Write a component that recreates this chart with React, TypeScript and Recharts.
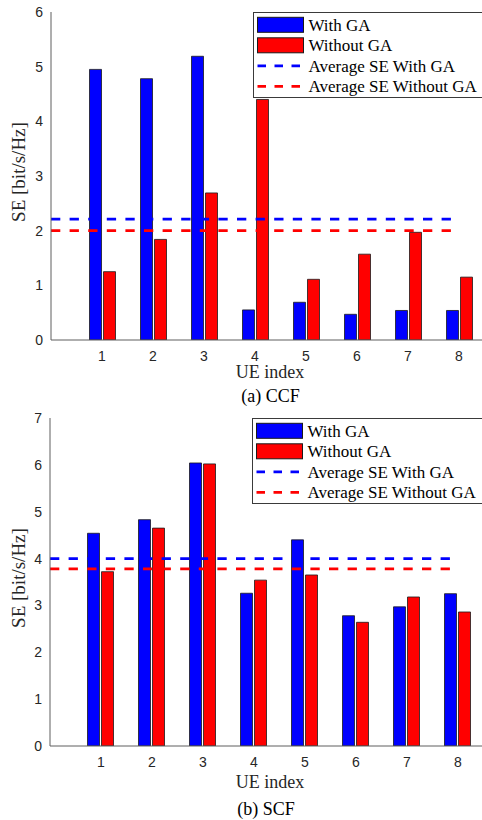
import React from 'react';
import { BarChart, Bar, XAxis, YAxis, ReferenceLine, Legend } from 'recharts';

// UE indices on the x axis
const UE = [1, 2, 3, 4, 5, 6, 7, 8];

// (a) CCF
const CCF_WITH_GA = [4.95, 4.78, 5.19, 0.55, 0.69, 0.47, 0.54, 0.54];
const CCF_WITHOUT_GA = [1.25, 1.84, 2.69, 4.4, 1.11, 1.57, 1.97, 1.15];
const CCF_AVG_WITH_GA = 2.21;
const CCF_AVG_WITHOUT_GA = 2.0;
const CCF_Y_TICKS = [0, 1, 2, 3, 4, 5, 6];

// (b) SCF
const SCF_WITH_GA = [4.54, 4.83, 6.04, 3.26, 4.4, 2.78, 2.97, 3.25];
const SCF_WITHOUT_GA = [3.72, 4.65, 6.02, 3.54, 3.65, 2.64, 3.18, 2.86];
const SCF_AVG_WITH_GA = 4.0;
const SCF_AVG_WITHOUT_GA = 3.78;
const SCF_Y_TICKS = [0, 1, 2, 3, 4, 5, 6, 7];

const SERIES_NAMES = ['With GA', 'Without GA', 'Average SE With GA', 'Average SE Without GA'];

const BLUE = '#0000ff';
const RED = '#ff0000';
const AXIS = '#5e5e5e';
const SERIF = '"Liberation Serif", "Times New Roman", serif';
const SANS = '"Liberation Sans", Arial, sans-serif';

const LegendBox = () => (
  <svg width={232} height={86} style={{ display: 'block' }}>
    <rect x={0.5} y={0.5} width={231} height={85} fill="#fff" stroke="#3a3a3a" strokeWidth={1} />
    {SERIES_NAMES.map((name, i) => {
      const cy = 12.8 + i * 20.5;
      const color = i % 2 === 0 ? BLUE : RED;
      return (
        <g key={name}>
          {i < 2 ? (
            <rect x={4.5} y={cy - 7.5} width={46} height={15} fill={color} stroke="#1a1a1a" strokeWidth={1} />
          ) : (
            <line x1={4.5} x2={51} y1={cy} y2={cy} stroke={color} strokeWidth={2.7} strokeDasharray="8.5 8.5" />
          )}
          <text x={55.5} y={cy + 5.8} fontFamily={SERIF} fontSize={17} fill="#000">
            {name}
          </text>
        </g>
      );
    })}
  </svg>
);

interface PanelProps {
  withGA: number[];
  withoutGA: number[];
  avgWith: number;
  avgWithout: number;
  yTicks: number[];
  yAxisWidth: number;
  xLabelDy: number;
}

const Panel: React.FC<PanelProps> = ({ withGA, withoutGA, avgWith, avgWithout, yTicks, yAxisWidth, xLabelDy }) => {
  const rows = UE.map((ue, i) => ({ ue, withGA: withGA[i], withoutGA: withoutGA[i] }));
  const yMax = yTicks[yTicks.length - 1];
  const xDomain: [number, number] = [0, 8.5];
  const yDomain: [number, number] = [0, yMax];
  const tickStyle = { fill: '#262626', fontSize: 14, fontFamily: SANS };

  return (
    <BarChart
      width={486}
      height={400}
      data={rows}
      margin={{ top: 12, right: 486 - yAxisWidth - 433.5, bottom: 0, left: 0 }}
      barSize={12}
      barGap={2}
    >
      <XAxis
        dataKey="ue"
        type="number"
        domain={xDomain}
        ticks={UE}
        allowDataOverflow
        height={60}
        tickLine={false}
        tickSize={0}
        tickMargin={11}
        axisLine={{ stroke: AXIS }}
        tick={tickStyle}
        label={{
          content: (p: any) => (
            <text x={270} y={p.viewBox.y + xLabelDy} textAnchor="middle" fontFamily={SERIF} fontSize={18} fill="#262626">
              UE index
            </text>
          ),
        }}
      />
      <XAxis xAxisId="bottomIn" type="number" domain={xDomain} ticks={UE} allowDataOverflow mirror height={0}
        tick={false} axisLine={false} tickSize={4} tickLine={{ stroke: AXIS }} />
      <XAxis xAxisId="top" orientation="top" type="number" domain={xDomain} ticks={UE} allowDataOverflow mirror height={0}
        tick={false} axisLine={{ stroke: AXIS }} tickSize={4} tickLine={{ stroke: AXIS }} />
      <YAxis
        type="number"
        domain={yDomain}
        ticks={yTicks}
        allowDataOverflow
        width={yAxisWidth}
        tickLine={false}
        tickSize={0}
        tickMargin={8}
        axisLine={{ stroke: AXIS }}
        tick={tickStyle}
        label={{
          content: (p: any) => {
            const cy = p.viewBox.y + 160;
            return (
              <text transform={`translate(18, ${cy}) rotate(-90)`} textAnchor="middle" dy="0.35em"
                fontFamily={SERIF} fontSize={19} fill="#262626">
                SE [bit/s/Hz]
              </text>
            );
          },
        }}
      />
      <YAxis yAxisId="leftIn" type="number" domain={yDomain} ticks={yTicks} allowDataOverflow mirror width={0}
        tick={false} axisLine={false} tickSize={4} tickLine={{ stroke: AXIS }} />
      <YAxis yAxisId="right" orientation="right" type="number" domain={yDomain} ticks={yTicks} allowDataOverflow mirror width={0}
        tick={false} axisLine={{ stroke: AXIS }} tickSize={4} tickLine={{ stroke: AXIS }} />
      <Bar dataKey="withGA" name={SERIES_NAMES[0]} fill={BLUE} stroke="#1a1a1a" strokeWidth={0.8} isAnimationActive={false} />
      <Bar dataKey="withoutGA" name={SERIES_NAMES[1]} fill={RED} stroke="#1a1a1a" strokeWidth={0.8} isAnimationActive={false} />
      <ReferenceLine
        segment={[{ x: 0, y: avgWith }, { x: 8, y: avgWith }]}
        stroke={BLUE}
        strokeWidth={2.7}
        strokeDasharray="9.3 9.3"
      />
      <ReferenceLine
        segment={[{ x: 0, y: avgWithout }, { x: 8, y: avgWithout }]}
        stroke={RED}
        strokeWidth={2.7}
        strokeDasharray="9.3 9.3"
      />
      <Legend
        layout="horizontal"
        verticalAlign="middle"
        align="center"
        content={() => <LegendBox />}
        wrapperStyle={{ left: yAxisWidth + 202, top: 12, width: 232, height: 86 }}
      />
    </BarChart>
  );
};

const Caption: React.FC<{ text: string; x: number; y: number }> = ({ text, x, y }) => (
  <svg width={482} height={30} style={{ position: 'absolute', left: 0, top: y - 22 }}>
    <text x={x} y={22} textAnchor="middle" fontFamily={SERIF} fontSize={18} fill="#000">
      {text}
    </text>
  </svg>
);

export default function App() {
  return (
    <div style={{ position: 'absolute', left: 0, top: 0, width: 482, height: 820, overflow: 'hidden', background: '#fff' }}>
      <div style={{ position: 'absolute', left: 0, top: 0 }}>
        <Panel withGA={CCF_WITH_GA} withoutGA={CCF_WITHOUT_GA} avgWith={CCF_AVG_WITH_GA} avgWithout={CCF_AVG_WITHOUT_GA}
          yTicks={CCF_Y_TICKS} yAxisWidth={51} xLabelDy={38.3} />
      </div>
      <Caption text="(a) CCF" x={270.5} y={402} />
      <div style={{ position: 'absolute', left: 0, top: 406 }}>
        <Panel withGA={SCF_WITH_GA} withoutGA={SCF_WITHOUT_GA} avgWith={SCF_AVG_WITH_GA} avgWithout={SCF_AVG_WITHOUT_GA}
          yTicks={SCF_Y_TICKS} yAxisWidth={50} xLabelDy={41.6} />
      </div>
      <Caption text="(b) SCF" x={266} y={814.5} />
    </div>
  );
}
